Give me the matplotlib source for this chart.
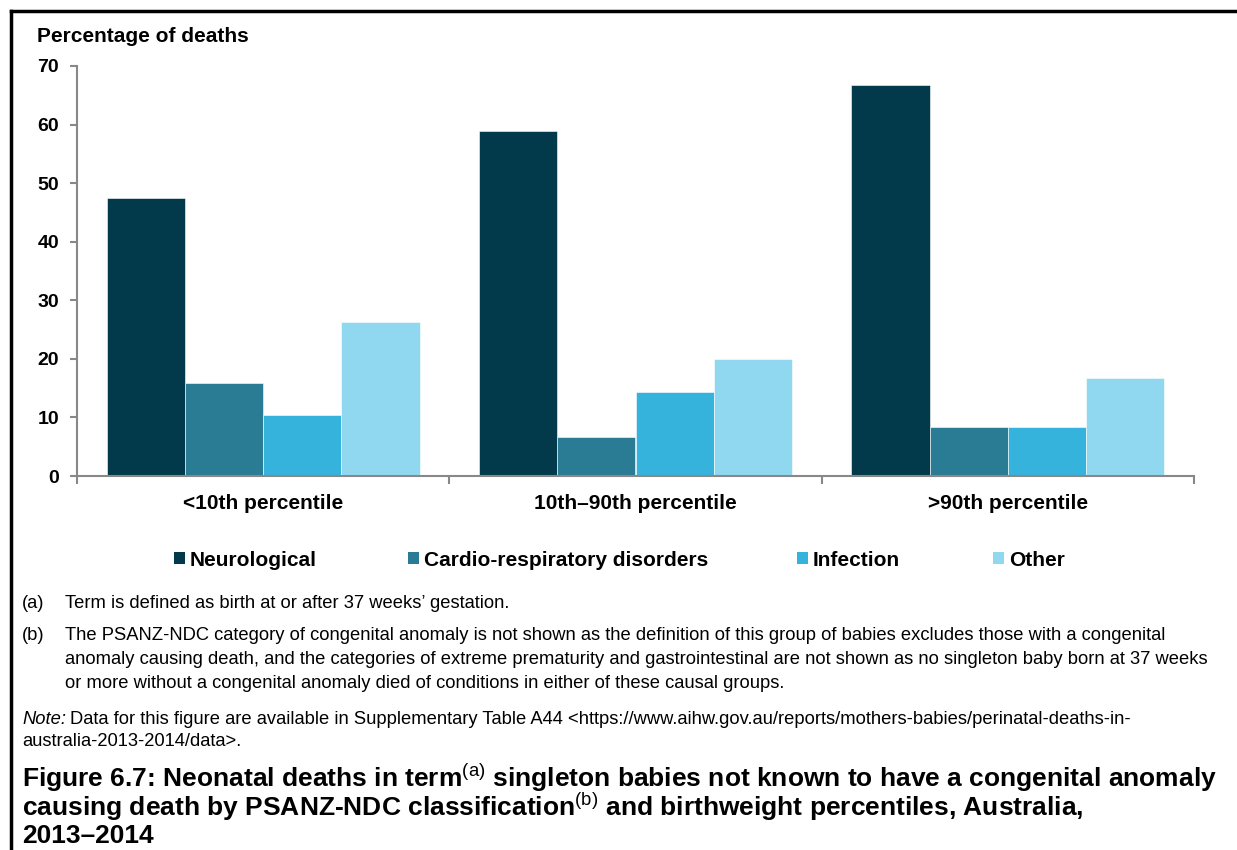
import numpy as np
import matplotlib
matplotlib.use("Agg")
import matplotlib.pyplot as plt
from matplotlib.lines import Line2D
from matplotlib.patches import Patch

plt.rcParams['font.family'] = ['Liberation Sans', 'DejaVu Sans']
plt.rcParams['mathtext.fontset'] = 'custom'
plt.rcParams['mathtext.rm'] = 'Liberation Sans'
plt.rcParams['mathtext.it'] = 'Liberation Sans:italic'
plt.rcParams['mathtext.bf'] = 'Liberation Sans:bold'

# data
groups = ["<10th percentile", "10th\u201390th percentile", ">90th percentile"]
series = ["Neurological", "Cardio-respiratory disorders", "Infection", "Other"]
neurological = [47.4, 58.9, 66.7]
cardio_resp = [15.8, 6.7, 8.3]
infection = [10.5, 14.4, 8.3]
other = [26.3, 20.0, 16.7]
colors = ["#033a4b", "#2a7b94", "#35b3dc", "#8fd8f0"]
yticks = [0, 10, 20, 30, 40, 50, 60, 70]

values = [neurological, cardio_resp, infection, other]

W, H = 1237, 850
fig = plt.figure(figsize=(W / 100, H / 100), dpi=100)
ax = fig.add_axes([77 / W, 1 - 476 / H, (1194 - 77) / W, (476 - 66) / H])

x = np.arange(len(groups))
width = 0.21
for i, (name, vals) in enumerate(zip(series, values)):
    offs = (i - 1.5) * width
    ax.bar(x + offs, vals, width, color=colors[i], label=name, zorder=2,
           edgecolor="white", linewidth=0.4)

ax.set_xlim(-0.5, len(groups) - 0.5)
ax.set_ylim(0, 70)
ax.set_yticks(yticks)
ax.set_yticklabels([str(t) for t in yticks], fontsize=14, fontweight="bold")

# category labels between group boundary ticks
ax.set_xticks(np.arange(len(groups) + 1) - 0.5)
ax.set_xticklabels([])
ax.set_xticks(x, minor=True)
ax.set_xticklabels(groups, minor=True, fontsize=15, fontweight="bold")
ax.tick_params(axis="x", which="minor", length=0, pad=13)
ax.tick_params(axis="x", which="major", length=6, width=1.5, color="#888888", direction="out")
ax.tick_params(axis="y", length=5, width=1.5, color="#888888", pad=8)

for s in ["top", "right"]:
    ax.spines[s].set_visible(False)
for s in ["left", "bottom"]:
    ax.spines[s].set_color("#888888")
    ax.spines[s].set_linewidth(1.5)

fig.text(37 / W, 1 - 37 / H, "Percentage of deaths", fontsize=15, fontweight="bold",
         va="center", ha="left")

# legend entries spread like the original
leg_x = [174, 408, 797, 993]
for i, name in enumerate(series):
    h = Patch(facecolor=colors[i], edgecolor="none")
    fig.legend([h], [name], loc="center left",
               bbox_to_anchor=(leg_x[i] / W, 1 - 560 / H),
               frameon=False, prop={"size": 15, "weight": "bold"},
               handlelength=0.55, handleheight=0.55, handletextpad=0.2,
               borderpad=0, borderaxespad=0)

# footnotes
note_fs = 13.2
fig.text(22 / W, 1 - 604 / H, "(a)", fontsize=note_fs, va="center")
fig.text(65 / W, 1 - 604 / H, "Term is defined as birth at or after 37 weeks\u2019 gestation.",
         fontsize=note_fs, va="center")
fig.text(22 / W, 1 - 636 / H, "(b)", fontsize=note_fs, va="center")
b_lines = [
    "The PSANZ-NDC category of congenital anomaly is not shown as the definition of this group of babies excludes those with a congenital",
    "anomaly causing death, and the categories of extreme prematurity and gastrointestinal are not shown as no singleton baby born at 37 weeks",
    "or more without a congenital anomaly died of conditions in either of these causal groups.",
]
for k, line in enumerate(b_lines):
    fig.text(65 / W, 1 - (636 + 24 * k) / H, line, fontsize=note_fs, va="center")

note = fig.text(22 / W, 1 - 719 / H, "Note:", fontsize=note_fs, style="italic", va="center")
ax.annotate("Data for this figure are available in Supplementary Table A44 <https://www.aihw.gov.au/reports/mothers-babies/perinatal-deaths-in-",
            xy=(1, 0.5), xycoords=note, xytext=(3, 0), textcoords="offset points",
            fontsize=note_fs, va="center", ha="left", annotation_clip=False)
fig.text(22 / W, 1 - 742 / H, "australia-2013-2014/data>.", fontsize=note_fs, va="center")

# figure title
title_lines = [
    "Figure 6.7: Neonatal deaths in term$^{\\mathrm{(a)}}$ singleton babies not known to have a congenital anomaly",
    "causing death by PSANZ-NDC classification$^{\\mathrm{(b)}}$ and birthweight percentiles, Australia,",
    "2013\u20132014",
]
for k, line in enumerate(title_lines):
    fig.text(22 / W, 1 - (778 + 29 * k) / H, line, fontsize=19, fontweight="bold", va="center")

# partial frame: top and left edges
fig.add_artist(Line2D([11 / W, 1], [1 - 11 / H, 1 - 11 / H], color="black", lw=2.5,
                      transform=fig.transFigure))
fig.add_artist(Line2D([11 / W, 11 / W], [0, 1 - 11 / H], color="black", lw=2.5,
                      transform=fig.transFigure))

fig.savefig("out.png", dpi=100)
